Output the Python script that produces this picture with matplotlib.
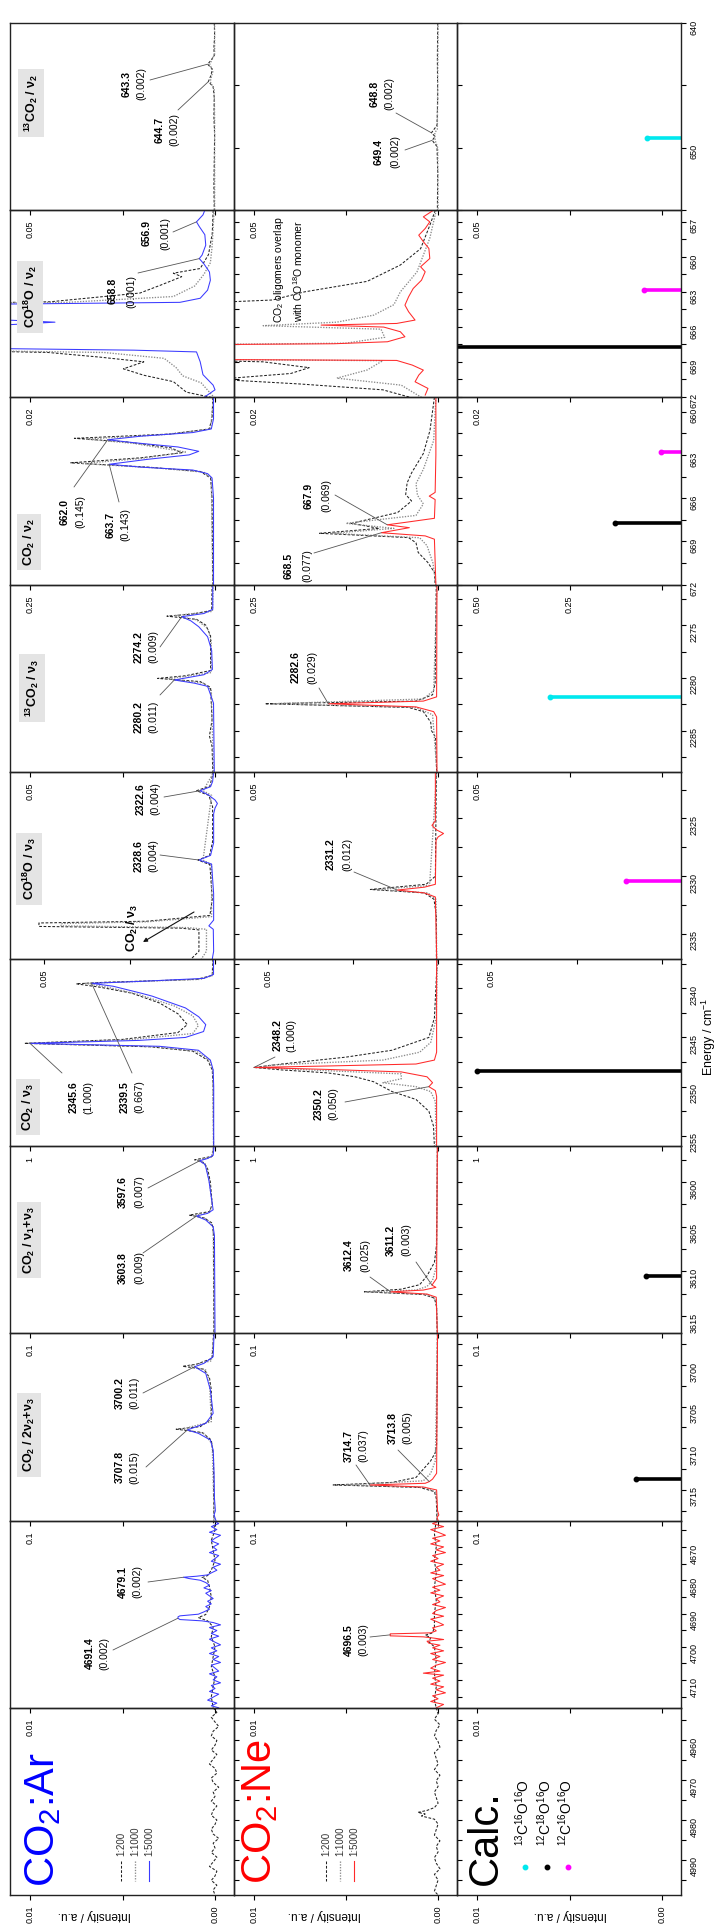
import matplotlib
matplotlib.use("Agg")
import matplotlib.pyplot as plt
from matplotlib.lines import Line2D
from matplotlib.ticker import MultipleLocator

plt.rcParams["font.family"] = ["Liberation Sans", "DejaVu Sans"]
plt.rcParams["mathtext.default"] = "regular"

FIG_W, FIG_H = 717, 1928

# =========================================
# Spectra, (energy / cm-1, intensity) pairs
# =========================================

# row 1: 13CO2 / v2
R1_AR_200 = [(640.0, 0.0002), (641.0, 0.0001), (642.0, 0.0003), (642.6, 0.0002), (643.0, 0.0011),
             (643.3, 0.0020), (643.7, 0.0007), (644.2, 0.0011), (644.7, 0.0018), (645.1, 0.0005),
             (646.0, 0.0002), (647.5, 0.0003), (649.0, 0.0001), (651.0, 0.0002), (653.0, 0.0003),
             (655.0, 0.0002)]
R1_AR_1000 = [(640.0, 0.0001), (642.5, 0.0001), (643.3, 0.0014), (643.9, 0.0006), (644.7, 0.0013),
              (645.3, 0.0002), (648.0, 0.0001), (655.0, 0.0001)]
R1_NE_200 = [(640.0, 0.0001), (643.0, 0.0002), (646.0, 0.0001), (648.2, 0.0003), (648.8, 0.0018),
             (649.1, 0.0008), (649.4, 0.0016), (649.9, 0.0003), (652.0, 0.0001), (655.0, 0.0002)]
R1_NE_1000 = [(640.0, 0.0), (648.5, 0.0002), (648.8, 0.0009), (649.4, 0.0008), (650.0, 0.0001),
              (655.0, 0.0)]

# row 2: CO18O / v2
R2_AR_200 = [(656.0, 0.0002), (658.0, 0.0003), (659.8, 0.0007), (661.0, 0.0016), (661.4, 0.0045),
             (661.7, 0.0036), (662.4, 0.0058), (663.1, 0.0081), (663.85, 0.0178), (664.0, 0.03),
             (666.0, 0.05), (668.0, 0.03), (668.2, 0.018), (668.6, 0.0124), (669.0, 0.0077),
             (669.6, 0.0099), (670.15, 0.0077), (670.7, 0.0045), (671.6, 0.0031), (672.05, 0.0004)]
R2_AR_1000 = [(656.0, 0.0001), (659.0, 0.0003), (660.5, 0.0005), (661.5, 0.0012), (662.5, 0.0022),
              (663.4, 0.0045), (663.9, 0.016), (664.0, 0.03), (666.0, 0.05), (668.0, 0.03),
              (668.2, 0.012), (668.7, 0.0055), (669.5, 0.0042), (670.2, 0.0035), (670.8, 0.0015),
              (672.05, 0.0001)]
R2_AR_5000 = [(656.0, 0.0011), (656.4, 0.0013), (657.0, 0.0020), (657.4, 0.0017), (658.1, 0.0011),
              (659.0, 0.0010), (659.85, 0.0014), (660.15, 0.0017), (660.6, 0.0012), (661.3, 0.0006),
              (662.0, 0.0005), (662.85, 0.0008), (663.55, 0.0016), (663.9, 0.0038), (664.0, 0.016),
              (664.1, 0.030), (665.0, 0.040), (665.4, 0.023), (665.6, 0.0173), (665.85, 0.023),
              (666.4, 0.040), (667.8, 0.030), (668.0, 0.0088), (668.15, 0.0020), (669.0, 0.0016),
              (670.1, 0.0013), (671.0, 0.0002), (671.4, 0.0), (672.0, 0.0011)]
R2_NE_200 = [(656.0, 0.0003), (657.3, 0.0009), (659.3, 0.0019), (660.7, 0.0041), (662.1, 0.0077),
             (663.0, 0.0145), (663.7, 0.018), (664.1, 0.03), (666.0, 0.04), (668.0, 0.04),
             (668.8, 0.03), (669.0, 0.019), (669.5, 0.014), (670.0, 0.016), (670.5, 0.024),
             (670.9, 0.015), (671.4, 0.006), (672.05, 0.003)]
R2_NE_1000 = [(656.0, 0.0002), (658.4, 0.0009), (661.3, 0.0023), (663.0, 0.0041), (664.1, 0.0048),
              (665.0, 0.0070), (665.6, 0.011), (665.9, 0.019), (666.2, 0.0062), (666.9, 0.0058),
              (667.4, 0.010), (667.55, 0.03), (668.2, 0.05), (668.78, 0.03), (668.9, 0.006),
              (669.7, 0.0077), (670.4, 0.011), (671.0, 0.004), (672.05, 0.0018)]
R2_NE_5000 = [(656.0, 0.0005), (656.57, 0.0016), (657.0, 0.0009), (657.57, 0.0014), (658.14, 0.0021),
              (658.7, 0.0016), (659.28, 0.0010), (660.14, 0.0009), (660.85, 0.0019), (661.28, 0.0014),
              (662.0, 0.0018), (662.71, 0.0027), (663.42, 0.0032), (664.14, 0.0036), (664.71, 0.0032),
              (665.42, 0.0025), (665.71, 0.0045), (665.85, 0.0127), (666.02, 0.0059), (666.42, 0.0041),
              (666.85, 0.0036), (667.28, 0.0055), (667.45, 0.0113), (667.55, 0.03), (668.2, 0.05),
              (668.78, 0.03), (668.88, 0.0045), (669.28, 0.0028), (669.71, 0.0016), (670.14, 0.0021),
              (670.71, 0.0025), (671.28, 0.0011), (671.85, 0.0014)]

# row 3: CO2 / v2
R3_AR_200 = [(659.0, 0.003), (660.5, 0.004), (661.2, 0.008), (661.55, 0.06), (661.85, 0.19),
             (662.1, 0.12), (662.5, 0.06), (662.85, 0.045), (663.2, 0.10), (663.55, 0.195),
             (663.85, 0.09), (664.15, 0.02), (664.6, 0.006), (666.0, 0.004), (672.0, 0.003)]
R3_AR_1000 = [(659.0, 0.002), (661.2, 0.006), (661.6, 0.07), (661.9, 0.175), (662.2, 0.11),
              (662.8, 0.04), (663.25, 0.10), (663.6, 0.18), (663.9, 0.08), (664.2, 0.015),
              (664.6, 0.005), (672.0, 0.003)]
R3_AR_5000 = [(659.0, 0.002), (660.5, 0.002), (661.2, 0.005), (661.45, 0.03), (661.7, 0.10),
              (661.95, 0.145), (662.15, 0.11), (662.45, 0.05), (662.75, 0.022), (663.0, 0.035),
              (663.3, 0.09), (663.65, 0.143), (663.85, 0.10), (664.05, 0.03), (664.3, 0.01),
              (664.6, 0.004), (666.0, 0.002), (672.0, 0.002)]
R3_NE_200 = [(659.0, 0.005), (661.3, 0.011), (662.9, 0.020), (664.25, 0.036), (664.94, 0.042),
             (665.75, 0.044), (666.2, 0.036), (667.0, 0.055), (667.75, 0.1175), (668.1, 0.08),
             (668.44, 0.161), (668.74, 0.04), (669.1, 0.03), (669.77, 0.027), (670.46, 0.014),
             (671.15, 0.005), (672.0, 0.004)]
R3_NE_1000 = [(659.0, 0.003), (662.0, 0.006), (664.0, 0.02), (665.0, 0.03), (665.8, 0.028),
              (666.4, 0.02), (667.2, 0.03), (667.75, 0.125), (668.1, 0.06), (668.44, 0.145),
              (668.75, 0.025), (669.3, 0.015), (670.5, 0.007), (672.0, 0.003)]
R3_NE_5000 = [(659.0, 0.003), (663.0, 0.003), (665.6, 0.004), (665.86, 0.012), (666.1, 0.004),
              (667.4, 0.005), (667.65, 0.04), (667.85, 0.069), (668.05, 0.039), (668.4, 0.077),
              (668.62, 0.0175), (668.85, 0.005), (672.0, 0.003)]

# row 4: 13CO2 / v3
R4_AR_200 = [(2271.16, 0.0008), (2273.6, 0.0009), (2273.95, 0.006), (2274.15, 0.013), (2274.45, 0.005),
             (2275.0, 0.0025), (2276.0, 0.0012), (2279.3, 0.0012), (2279.8, 0.008), (2280.05, 0.0155),
             (2280.35, 0.004), (2280.9, 0.0012), (2284.0, 0.0008), (2285.5, 0.0015), (2286.5, 0.0008),
             (2288.9, 0.0006)]
R4_AR_1000 = [(2271.16, 0.0005), (2273.7, 0.0007), (2274.1, 0.011), (2274.5, 0.005), (2275.3, 0.002),
              (2276.5, 0.001), (2279.5, 0.001), (2280.1, 0.013), (2280.5, 0.003), (2281.2, 0.001),
              (2288.9, 0.0004)]
R4_AR_5000 = [(2271.16, 0.0006), (2273.5, 0.0006), (2273.9, 0.003), (2274.2, 0.009), (2274.6, 0.0065),
              (2275.15, 0.0044), (2276.1, 0.0020), (2277.4, 0.0009), (2279.2, 0.0007), (2279.7, 0.003),
              (2280.2, 0.011), (2280.5, 0.0056), (2280.8, 0.002), (2282.4, 0.0004), (2288.9, 0.0002)]
R4_NE_200 = [(2271.16, 0.0005), (2280.5, 0.0008), (2281.6, 0.0015), (2282.2, 0.006), (2282.45, 0.047),
             (2282.8, 0.008), (2283.2, 0.004), (2284.2, 0.002), (2285.0, 0.0018), (2285.6, 0.0007),
             (2288.9, 0.0004)]
R4_NE_1000 = [(2271.16, 0.0003), (2281.2, 0.0012), (2282.0, 0.004), (2282.45, 0.045), (2282.8, 0.006),
              (2283.5, 0.0015), (2288.9, 0.0003)]
R4_NE_5000 = [(2271.16, 0.0003), (2281.8, 0.0004), (2282.2, 0.004), (2282.45, 0.0298), (2282.75, 0.006),
              (2283.2, 0.0012), (2283.7, 0.0004), (2288.9, 0.0003)]

# row 5: CO18O / v3
R5_AR_200 = [(2320.96, 0.0005), (2322.2, 0.0015), (2322.6, 0.0054), (2323.0, 0.0018), (2324.0, 0.0007),
             (2327.0, 0.0007), (2328.2, 0.0016), (2328.6, 0.005), (2329.0, 0.0015), (2332.0, 0.0008),
             (2333.4, 0.0015), (2333.9, 0.02), (2334.05, 0.0515), (2334.35, 0.0515), (2334.5, 0.01),
             (2334.65, 0.0047), (2336.5, 0.0047), (2337.17, 0.007)]
R5_AR_1000 = [(2320.96, 0.0003), (2322.6, 0.0035), (2323.0, 0.001), (2328.6, 0.0035), (2329.0, 0.001),
              (2333.5, 0.001), (2333.95, 0.02), (2334.1, 0.045), (2334.3, 0.045), (2334.45, 0.008),
              (2334.6, 0.0025), (2336.5, 0.0025), (2337.17, 0.004)]
R5_AR_5000 = [(2320.96, 0.0004), (2321.8, 0.0007), (2322.25, 0.0013), (2322.6, 0.0044), (2322.95, 0.002),
              (2323.4, 0.0), (2323.7, -0.0007), (2324.1, 0.0), (2324.6, 0.0004), (2327.1, 0.0004),
              (2328.2, 0.0013), (2328.6, 0.0047), (2328.95, 0.001), (2331.5, 0.0004), (2333.8, 0.0004),
              (2334.3, 0.0018), (2334.6, 0.0005), (2336.5, 0.0004), (2337.17, 0.0008)]
R5_NE_200 = [(2320.96, 0.0005), (2330.0, 0.0008), (2330.7, 0.0035), (2331.15, 0.0199), (2331.45, 0.004),
             (2332.0, 0.0012), (2333.5, 0.0005), (2337.17, 0.0005)]
R5_NE_1000 = [(2320.96, 0.0004), (2330.8, 0.0025), (2331.15, 0.018), (2331.45, 0.003), (2332.0, 0.0006),
              (2337.17, 0.0004)]
R5_NE_5000 = [(2320.96, 0.0008), (2325.2, 0.0008), (2325.6, 0.0018), (2326.0, 0.0004), (2326.3, -0.0016),
              (2326.6, 0.0), (2326.9, 0.0006), (2330.7, 0.0008), (2330.95, 0.004), (2331.2, 0.012),
              (2331.45, 0.004), (2331.8, 0.0008), (2337.17, 0.0004)]

# row 6: CO2 / v3
R6_AR_200 = [(2337.03, 0.012), (2338.7, 0.015), (2339.1, 0.1), (2339.4, 0.6), (2339.55, 0.75),
             (2339.9, 0.62), (2340.5, 0.45), (2341.5, 0.30), (2342.6, 0.20), (2343.7, 0.15),
             (2344.5, 0.20), (2345.2, 0.5), (2345.6, 1.03), (2345.95, 0.35), (2346.4, 0.12),
             (2347.3, 0.04), (2348.3, 0.015), (2350.0, 0.01), (2356.05, 0.008)]
R6_AR_1000 = [(2337.03, 0.01), (2338.7, 0.012), (2339.1, 0.08), (2339.5, 0.70), (2339.9, 0.58),
              (2340.6, 0.42), (2341.8, 0.22), (2342.8, 0.12), (2343.8, 0.09), (2344.6, 0.12),
              (2345.2, 0.45), (2345.6, 1.01), (2345.95, 0.32), (2346.4, 0.1), (2347.3, 0.03),
              (2348.3, 0.012), (2356.05, 0.008)]
R6_AR_5000 = [(2337.03, 0.008), (2338.6, 0.008), (2339.0, 0.06), (2339.3, 0.40), (2339.5, 0.667),
              (2339.8, 0.55), (2340.5, 0.40), (2340.8, 0.34), (2342.0, 0.16), (2342.9, 0.088),
              (2343.7, 0.05), (2344.4, 0.062), (2345.0, 0.16), (2345.3, 0.41), (2345.6, 1.0),
              (2345.9, 0.30), (2346.3, 0.09), (2347.3, 0.025), (2348.3, 0.01), (2350.0, 0.007),
              (2356.05, 0.007)]
R6_NE_200 = [(2337.03, 0.005), (2340.0, 0.012), (2343.0, 0.02), (2345.0, 0.05), (2346.3, 0.25),
             (2347.0, 0.5), (2347.7, 0.85), (2348.05, 1.0), (2348.3, 0.85), (2348.6, 0.6),
             (2349.0, 0.45), (2349.5, 0.35), (2350.5, 0.25), (2351.3, 0.12), (2352.5, 0.05),
             (2354.0, 0.025), (2356.05, 0.02)]
R6_NE_1000 = [(2337.03, 0.004), (2343.0, 0.01), (2345.5, 0.04), (2346.5, 0.1), (2347.3, 0.3),
              (2347.8, 0.9), (2348.05, 0.98), (2348.3, 0.7), (2348.7, 0.2), (2349.2, 0.2),
              (2349.6, 0.3), (2350.0, 0.12), (2350.5, 0.04), (2351.5, 0.015), (2356.05, 0.01)]
R6_NE_5000 = [(2337.03, 0.008), (2346.5, 0.008), (2347.3, 0.02), (2347.7, 0.12), (2347.9, 0.6),
              (2348.05, 1.0), (2348.25, 0.6), (2348.5, 0.2), (2349.0, 0.06), (2349.6, 0.03),
              (2350.0, 0.05), (2350.4, 0.015), (2351.0, 0.008), (2356.05, 0.008)]

# row 7: CO2 / v1+v3
R7_AR_200 = [(3595.97, 0.0008), (3597.1, 0.0015), (3597.5, 0.011), (3597.8, 0.006), (3598.5, 0.004),
             (3600.0, 0.0025), (3602.5, 0.0015), (3603.3, 0.003), (3603.7, 0.014), (3604.0, 0.006),
             (3604.6, 0.0015), (3606.0, 0.0008), (3616.96, 0.0006)]
R7_AR_1000 = [(3595.97, 0.0005), (3597.2, 0.002), (3597.55, 0.0095), (3598.0, 0.005), (3600.0, 0.003),
              (3602.5, 0.0015), (3603.4, 0.003), (3603.75, 0.012), (3604.1, 0.005), (3605.0, 0.001),
              (3616.96, 0.0004)]
R7_AR_5000 = [(3595.97, 0.0005), (3597.0, 0.001), (3597.35, 0.004), (3597.6, 0.0083), (3598.0, 0.0055),
              (3598.3, 0.005), (3599.8, 0.0033), (3602.0, 0.0018), (3603.1, 0.001), (3603.5, 0.004),
              (3603.8, 0.01), (3604.25, 0.005), (3605.0, 0.001), (3606.0, 0.0003), (3616.96, 0.0)]
R7_NE_200 = [(3595.97, 0.0004), (3607.0, 0.0008), (3609.0, 0.002), (3610.5, 0.006), (3611.5, 0.01),
             (3612.0, 0.02), (3612.3, 0.04), (3612.6, 0.008), (3613.0, 0.002), (3614.0, 0.0008),
             (3616.96, 0.0005)]
R7_NE_1000 = [(3595.97, 0.0003), (3609.5, 0.001), (3611.0, 0.003), (3611.7, 0.006), (3612.1, 0.012),
              (3612.3, 0.038), (3612.6, 0.006), (3613.2, 0.001), (3616.96, 0.0003)]
R7_NE_5000 = [(3595.97, 0.0004), (3610.8, 0.0008), (3611.3, 0.0025), (3611.55, 0.0033), (3611.8, 0.0012),
              (3612.1, 0.008), (3612.3, 0.0258), (3612.55, 0.006), (3612.9, 0.001), (3616.96, 0.0004)]

# row 8: CO2 / 2v2+v3
R8_AR_200 = [(3696.2, 0.0008), (3699.2, 0.0015), (3699.9, 0.01), (3700.15, 0.0175), (3700.5, 0.006),
             (3701.5, 0.003), (3703.0, 0.002), (3706.5, 0.002), (3707.4, 0.008), (3707.7, 0.021),
             (3708.1, 0.007), (3709.0, 0.002), (3711.0, 0.0008), (3718.68, 0.0006)]
R8_AR_1000 = [(3696.2, 0.0005), (3699.5, 0.002), (3700.1, 0.014), (3700.6, 0.005), (3702.0, 0.003),
              (3706.8, 0.002), (3707.7, 0.018), (3708.2, 0.006), (3709.5, 0.0015), (3718.68, 0.0004)]
R8_AR_5000 = [(3696.2, 0.0005), (3699.0, 0.001), (3699.8, 0.006), (3700.2, 0.011), (3701.0, 0.005),
              (3703.0, 0.0025), (3705.8, 0.001), (3707.0, 0.005), (3707.8, 0.015), (3708.2, 0.009),
              (3709.0, 0.0025), (3710.2, 0.001), (3713.0, 0.0005), (3716.0, 0.0003), (3717.5, -0.0002),
              (3718.0, 0.0005), (3718.68, -0.0005)]
R8_NE_200 = [(3696.2, 0.0004), (3709.5, 0.0008), (3710.5, 0.0015), (3711.5, 0.004), (3712.5, 0.008),
             (3713.5, 0.012), (3714.1, 0.025), (3714.4, 0.057), (3714.7, 0.01), (3715.2, 0.002),
             (3716.0, 0.001), (3718.68, 0.0006)]
R8_NE_1000 = [(3696.2, 0.0003), (3711.5, 0.0015), (3713.0, 0.004), (3713.9, 0.008), (3714.4, 0.05),
              (3714.7, 0.007), (3715.3, 0.001), (3718.68, 0.0003)]
R8_NE_5000 = [(3696.2, 0.0003), (3713.0, 0.0008), (3713.7, 0.003), (3714.0, 0.0048), (3714.2, 0.007),
              (3714.4, 0.037), (3714.65, 0.008), (3715.0, 0.0008), (3717.5, 0.0003), (3718.0, -0.0004),
              (3718.3, 0.0006), (3718.68, 0.0)]

# row 9: combination band near 4690 (noisy)
R9_AR_200 = [(4662.1, 0.0001), (4665.0, 0.0), (4668.0, 0.0002), (4671.0, 0.0001), (4674.0, 0.0),
             (4677.0, 0.0002), (4678.6, 0.0004), (4679.2, 0.0007), (4680.0, 0.0004), (4682.0, 0.0003),
             (4685.0, 0.0002), (4688.0, 0.0003), (4690.3, 0.0005), (4691.2, 0.0009), (4692.2, 0.0004),
             (4694.0, 0.0001), (4697.0, 0.0002), (4700.0, 0.0), (4703.0, 0.0001), (4706.0, 0.0002),
             (4709.0, 0.0), (4712.0, 0.0001), (4715.0, 0.0002), (4718.3, 0.0001)]
R9_AR_5000 = [(4662.1, 0.0001), (4663.0, -0.0002), (4663.9, 0.0002), (4664.8, -0.0001), (4665.6, 0.0003),
              (4666.5, -0.0003), (4667.4, 0.0), (4668.2, 0.0002), (4669.1, -0.0002), (4670.0, 0.0001),
              (4670.9, -0.0001), (4671.7, 0.0003), (4672.6, -0.0002), (4673.5, 0.0), (4674.3, 0.0002),
              (4675.2, -0.0003), (4676.1, 0.0001), (4677.0, -0.0001), (4677.8, 0.0002), (4678.4, 0.0004),
              (4678.8, 0.0010), (4679.1, 0.0017), (4679.5, 0.0014), (4680.0, 0.0008), (4680.7, 0.0005),
              (4681.5, 0.0003), (4682.3, 0.0006), (4683.1, 0.0002), (4683.9, 0.0005), (4684.7, 0.0003),
              (4685.5, 0.0001), (4686.3, 0.0004), (4687.1, 0.0002), (4687.9, 0.0005), (4688.7, 0.0003),
              (4689.5, 0.0006), (4690.2, 0.0009), (4690.7, 0.0019), (4691.0, 0.0020), (4691.4, 0.0020),
              (4691.8, 0.0019), (4692.2, 0.0007), (4692.7, 0.0001), (4693.4, -0.0003), (4694.2, 0.0003),
              (4695.1, -0.0001), (4696.0, 0.0002), (4696.8, -0.0002), (4697.7, 0.0003), (4698.6, 0.0),
              (4699.4, -0.0003), (4700.3, 0.0002), (4701.2, -0.0001), (4702.0, 0.0003), (4702.9, -0.0002),
              (4703.8, 0.0001), (4704.7, -0.0003), (4705.5, 0.0002), (4706.4, 0.0), (4707.3, -0.0002),
              (4708.1, 0.0003), (4709.0, -0.0001), (4709.9, 0.0001), (4710.8, -0.0003), (4711.6, 0.0002),
              (4712.5, 0.0), (4713.4, 0.0003), (4714.2, -0.0002), (4715.1, 0.0001), (4716.0, 0.0004),
              (4716.9, -0.0001), (4717.7, 0.0002), (4718.3, -0.0002)]
R9_NE_200 = [(4662.1, 0.0001), (4666.0, 0.0002), (4670.0, 0.0001), (4674.0, 0.0002), (4678.0, 0.0001),
             (4682.0, 0.0002), (4686.0, 0.0001), (4690.0, 0.0002), (4694.0, 0.0002), (4695.8, 0.0003),
             (4696.5, 0.0007), (4697.2, 0.0004), (4698.5, 0.0005), (4700.0, 0.0002), (4704.0, 0.0001),
             (4708.0, 0.0002), (4712.0, 0.0001), (4716.0, 0.0002), (4718.3, 0.0001)]
R9_NE_5000 = [(4662.1, -0.0001), (4663.0, 0.0003), (4663.9, -0.0003), (4664.8, 0.0004), (4665.6, 0.0),
              (4666.5, -0.0004), (4667.4, 0.0003), (4668.2, -0.0001), (4669.1, 0.0004), (4670.0, -0.0003),
              (4670.9, 0.0001), (4671.7, -0.0004), (4672.6, 0.0003), (4673.5, 0.0), (4674.3, 0.0004),
              (4675.2, -0.0003), (4676.1, 0.0001), (4677.0, -0.0001), (4677.8, 0.0004), (4678.6, -0.0003),
              (4679.5, 0.0003), (4680.3, 0.0), (4681.2, -0.0004), (4682.1, 0.0003), (4683.0, -0.0001),
              (4683.8, 0.0004), (4684.7, -0.0003), (4685.6, 0.0001), (4686.5, -0.0001), (4687.3, 0.0003),
              (4688.2, -0.0004), (4689.1, 0.0001), (4690.0, 0.0003), (4690.8, -0.0003), (4691.7, 0.0004),
              (4692.6, 0.0), (4693.4, -0.0003), (4694.3, 0.0003), (4695.2, 0.0001), (4695.8, 0.0004),
              (4696.1, 0.0026), (4696.4, 0.0026), (4696.7, 0.0026), (4697.0, 0.0008), (4697.4, 0.0002),
              (4697.8, -0.0003), (4698.3, 0.0006), (4698.9, 0.0005), (4699.5, -0.0001), (4700.3, 0.0003),
              (4701.2, -0.0003), (4702.0, 0.0004), (4702.9, -0.0001), (4703.8, 0.0003), (4704.7, -0.0004),
              (4705.5, 0.0001), (4706.4, 0.0004), (4707.3, -0.0001), (4707.9, 0.0008), (4708.5, -0.0003),
              (4709.4, 0.0003), (4710.3, -0.0001), (4711.2, 0.0004), (4712.0, -0.0003), (4712.9, 0.0001),
              (4713.8, -0.0004), (4714.7, 0.0003), (4715.6, 0.0), (4716.4, 0.0004), (4717.3, -0.0003),
              (4718.3, 0.0001)]

# row 10: 4990-4960 region (noise only)
R10_AR_200 = [(4951.95, 0.0001), (4953.1, -0.0001), (4954.3, 0.0002), (4955.5, 0.0), (4956.6, -0.0002),
              (4957.8, 0.0001), (4959.0, 0.0002), (4960.1, -0.0001), (4961.3, 0.0), (4962.5, 0.0002),
              (4963.6, -0.0001), (4964.8, 0.0001), (4966.0, 0.0003), (4967.1, 0.0), (4968.3, -0.0001),
              (4969.5, 0.0002), (4970.6, 0.0001), (4971.8, -0.0002), (4973.0, 0.0001), (4974.1, 0.0),
              (4975.3, 0.0002), (4976.5, -0.0001), (4977.6, 0.0001), (4978.8, 0.0002), (4980.0, -0.0001),
              (4981.1, 0.0), (4982.3, 0.0002), (4983.5, 0.0001), (4984.6, -0.0002), (4985.8, 0.0001),
              (4987.0, 0.0), (4988.1, 0.0002), (4989.3, -0.0001), (4990.5, 0.0001), (4991.6, 0.0003),
              (4992.8, -0.0001), (4994.0, 0.0), (4995.1, 0.0002), (4996.3, -0.0001), (4997.5, 0.0001),
              (4998.75, 0.0)]
R10_NE_200 = [(4951.95, 0.0001), (4953.4, 0.0), (4954.8, 0.0002), (4956.2, -0.0001), (4957.6, 0.0001),
              (4959.0, 0.0002), (4960.4, 0.0), (4961.8, -0.0001), (4963.2, 0.0002), (4964.6, 0.0001),
              (4966.0, 0.0), (4967.4, 0.0002), (4968.8, -0.0001), (4970.2, 0.0001), (4971.6, 0.0),
              (4973.0, 0.0002), (4974.4, 0.0001), (4975.8, 0.0), (4976.9, 0.0002), (4977.6, 0.0006),
              (4978.1, 0.0011), (4978.5, 0.0007), (4979.0, 0.0009), (4979.8, 0.0002), (4981.0, 0.0),
              (4982.4, 0.0001), (4983.8, 0.0002), (4985.2, -0.0001), (4986.6, 0.0001), (4988.0, 0.0),
              (4989.4, 0.0002), (4990.8, 0.0001), (4992.2, -0.0001), (4993.6, 0.0002), (4995.0, 0.0),
              (4996.4, 0.0001), (4997.8, 0.0002), (4998.75, 0.0)]

# calculated sticks
CALC_ENERGY = [649.2, 2281.8, 667.7, 2348.4, 3610.5, 3713.7, 662.8, 2330.4]
CALC_INTENSITY = [0.004, 0.0303, 0.127, 1.0, 0.0085, 0.0142, 0.00194, 0.0104]
CALC_SPECIES = [0, 0, 1, 1, 1, 1, 2, 2]
CALC_COLORS = ["#00e8ee", "#000000", "#ff00ff"]
CALC_NAMES = ["$^{13}$C$^{16}$O$^{16}$O", "$^{12}$C$^{18}$O$^{16}$O", "$^{12}$C$^{16}$O$^{16}$O"]

AR_TRACES = [
    (R1_AR_200, R1_AR_1000, None),
    (R2_AR_200, R2_AR_1000, R2_AR_5000),
    (R3_AR_200, R3_AR_1000, R3_AR_5000),
    (R4_AR_200, R4_AR_1000, R4_AR_5000),
    (R5_AR_200, R5_AR_1000, R5_AR_5000),
    (R6_AR_200, R6_AR_1000, R6_AR_5000),
    (R7_AR_200, R7_AR_1000, R7_AR_5000),
    (R8_AR_200, R8_AR_1000, R8_AR_5000),
    (R9_AR_200, None, R9_AR_5000),
    (R10_AR_200, None, None),
]
NE_TRACES = [
    (R1_NE_200, R1_NE_1000, None),
    (R2_NE_200, R2_NE_1000, R2_NE_5000),
    (R3_NE_200, R3_NE_1000, R3_NE_5000),
    (R4_NE_200, R4_NE_1000, R4_NE_5000),
    (R5_NE_200, R5_NE_1000, R5_NE_5000),
    (R6_NE_200, R6_NE_1000, R6_NE_5000),
    (R7_NE_200, R7_NE_1000, R7_NE_5000),
    (R8_NE_200, R8_NE_1000, R8_NE_5000),
    (R9_NE_200, None, R9_NE_5000),
    (R10_NE_200, None, None),
]

# axis ranges per row (top to bottom), intensity scale labels
ROW_LIMITS = [(640.0, 655.0), (656.0, 672.05), (659.01, 672.0), (2271.16, 2288.9),
              (2320.96, 2337.17), (2337.03, 2356.05), (3595.97, 3616.96), (3696.2, 3718.68),
              (4662.1, 4718.3), (4951.95, 4998.75)]
ROW_MAJOR = [10, 3, 3, 5, 5, 5, 5, 5, 10, 10]
ROW_SCALE = [0.05, 0.02, 0.25, 0.05, 0.05, 1.0, 0.1, 0.1, 0.01, 0.01]
ROW_SCALE_LABEL = ["0.05", "0.02", "0.25", "0.05", "0.05", "1", "0.1", "0.1", "0.01", "0.01"]
ROW_S_FRAC = [0.0893, 0.0893, 0.0893, 0.0893, 0.152, 0.0893, 0.0893, 0.0893, 0.0893, 0.0893]
ZERO_FRAC = 0.9152

GROUP_LABELS = ["$^{13}$CO$_2$ / ν$_2$", "CO$^{18}$O / ν$_2$", "CO$_2$ / ν$_2$",
                "$^{13}$CO$_2$ / ν$_3$", "CO$^{18}$O / ν$_3$", "CO$_2$ / ν$_3$",
                "CO$_2$ / ν$_1$+ν$_3$", "CO$_2$ / 2ν$_2$+ν$_3$"]
GROUP_POS = [(31, 103), (30, 297), (29, 542), (32, 688), (29, 869), (28, 1107), (29, 1240), (29, 1435)]

# (row, col, position, intensity label, peak energy, peak intensity, text xy, paren x, leader start)
PEAK_LABELS = [
    (0, 0, "643.3", "(0.002)", 643.3, 0.0020, (127, 84), 141, (150, 80)),
    (0, 0, "644.7", "(0.002)", 644.7, 0.0018, (160, 130), 174, (178, 110)),
    (0, 1, "648.8", "(0.002)", 648.8, 0.0018, (375, 94), 389, (396, 113)),
    (0, 1, "649.4", "(0.002)", 649.4, 0.0016, (379, 152), 395, (405, 150)),
    (1, 0, "658.8", "(0.001)", 660.15, 0.0017, (113, 291), 131, (138, 273)),
    (1, 0, "656.9", "(0.001)", 657.0, 0.0020, (147, 233), 165, (173, 232)),
    (2, 0, "662.0", "(0.145)", 661.95, 0.145, (65, 512), 80, (74, 487)),
    (2, 0, "663.7", "(0.143)", 663.65, 0.143, (111, 525), 125, (119, 502)),
    (2, 1, "667.9", "(0.069)", 667.85, 0.069, (309, 496), 326, (335, 495)),
    (2, 1, "668.5", "(0.077)", 668.4, 0.077, (289, 566), 307, (314, 553)),
    (3, 0, "2274.2", "(0.009)", 2274.2, 0.009, (139, 647), 153, (160, 647)),
    (3, 0, "2280.2", "(0.011)", 2280.2, 0.011, (139, 717), 153, (160, 695)),
    (3, 1, "2282.6", "(0.029)", 2282.45, 0.0298, (296, 667), 312, (319, 688)),
    (4, 0, "2322.6", "(0.004)", 2322.6, 0.0044, (141, 799), 155, (164, 797)),
    (4, 0, "2328.6", "(0.004)", 2328.6, 0.0047, (139, 856), 153, (160, 855)),
    (4, 1, "2331.2", "(0.012)", 2331.2, 0.012, (331, 854), 347, (354, 872)),
    (5, 0, "2345.6", "(1.000)", 2345.6, 1.0, (74, 1097), 88, (62, 1073)),
    (5, 0, "2339.5", "(0.667)", 2339.5, 0.667, (125, 1097), 139, (132, 1073)),
    (5, 1, "2348.2", "(1.000)", 2348.05, 1.0, (278, 1035), 291, (275, 1057)),
    (5, 1, "2350.2", "(0.050)", 2350.0, 0.05, (319, 1104), 333, (345, 1102)),
    (6, 0, "3597.6", "(0.007)", 3597.6, 0.0083, (123, 1192), 139, (148, 1188)),
    (6, 0, "3603.8", "(0.009)", 3603.8, 0.01, (123, 1268), 139, (143, 1253)),
    (6, 1, "3612.4", "(0.025)", 3612.3, 0.0258, (349, 1255), 365, (370, 1277)),
    (6, 1, "3611.2", "(0.003)", 3611.55, 0.0033, (391, 1240), 406, (416, 1262)),
    (7, 0, "3700.2", "(0.011)", 3700.2, 0.011, (120, 1393), 134, (143, 1393)),
    (7, 0, "3707.8", "(0.015)", 3707.8, 0.015, (120, 1467), 134, (146, 1467)),
    (7, 1, "3714.7", "(0.037)", 3714.4, 0.037, (349, 1446), 363, (356, 1465)),
    (7, 1, "3713.8", "(0.005)", 3714.0, 0.0048, (393, 1428), 407, (398, 1450)),
    (8, 0, "4679.1", "(0.002)", 4679.1, 0.0017, (123, 1582), 137, (148, 1582)),
    (8, 0, "4691.4", "(0.002)", 4691.4, 0.0020, (90, 1653), 104, (113, 1650)),
    (8, 1, "4696.5", "(0.003)", 4696.4, 0.0026, (349, 1640), 363, (370, 1637)),
]

LEGEND_RATIOS = ["1:200", "1:1000", "1:5000"]

COL_X = [10, 234, 457]
COL_W = [224, 223, 224]
ROW_TOP = 23
ROW_H = 187.2


def fig_xy(x, y):
    """Pixel position in the 717x1928 layout -> figure fraction."""
    return x / FIG_W, 1 - y / FIG_H


def plot_pairs(ax, pairs, **style):
    ax.plot([p[1] for p in pairs], [p[0] for p in pairs], **style)


def setup_axes(ax, row, col):
    lo, hi = ROW_LIMITS[row]
    ax.set_ylim(hi, lo)
    ax.yaxis.set_major_locator(MultipleLocator(ROW_MAJOR[row]))
    ax.yaxis.set_minor_locator(MultipleLocator(ROW_MAJOR[row] / 2))
    ax.yaxis.tick_right()
    ax.tick_params(axis="y", which="both", direction="out", length=3.5, width=0.8,
                   left=False, labelleft=False, right=True, labelright=(col == 2),
                   labelsize=6.5, labelrotation=90, pad=2.5)

    scale = ROW_SCALE[row]
    labels = ["", "", ROW_SCALE_LABEL[row]]
    if col == 2 and row == 2:
        scale = 0.5
        labels = ["", "0.25", "0.50"]
    if row == 9:
        labels = ["0.00", "", "0.01"]
    s_frac = ROW_S_FRAC[row]
    span = scale / (ZERO_FRAC - s_frac)
    left = scale + s_frac * span
    ax.set_xlim(left, left - span)
    ax.set_xticks([0, scale / 2, scale], labels)
    ax.tick_params(axis="x", which="both", direction="out", length=3.5, width=0.8,
                   top=False, labelsize=6.5, labelrotation=90, pad=4)
    for spine in ax.spines.values():
        spine.set_linewidth(1.0)
        spine.set_color("#222222")


def main() -> None:
    fig = plt.figure(figsize=(FIG_W / 100, FIG_H / 100), dpi=100)

    style_200 = dict(color="#222222", lw=0.75, ls=(0, (2.6, 1.6)))
    style_1000 = dict(color="#8a8a8a", lw=0.95, ls=(0, (1, 1.1)))
    solid_colors = ["#3a3aff", "#ff2a2a"]

    axes = {}
    for row in range(10):
        for col in range(3):
            bottom = FIG_H - (ROW_TOP + (row + 1) * ROW_H)
            ax = fig.add_axes([COL_X[col] / FIG_W, bottom / FIG_H, COL_W[col] / FIG_W, ROW_H / FIG_H])
            ax.set_facecolor("none")
            setup_axes(ax, row, col)
            axes[(row, col)] = ax

            if col < 2:
                traces = (AR_TRACES if col == 0 else NE_TRACES)[row]
                if traces[0] is not None:
                    plot_pairs(ax, traces[0], **style_200)
                if traces[1] is not None:
                    plot_pairs(ax, traces[1], **style_1000)
                if traces[2] is not None:
                    plot_pairs(ax, traces[2], color=solid_colors[col], lw=0.75)
            else:
                lo, hi = ROW_LIMITS[row]
                base = ax.get_xlim()[1]
                for e, i, s in zip(CALC_ENERGY, CALC_INTENSITY, CALC_SPECIES):
                    if lo <= e <= hi:
                        ax.plot([base, i], [e, e], color=CALC_COLORS[s], lw=2.6,
                                solid_capstyle="butt")
                        ax.plot([i], [e], "o", color=CALC_COLORS[s], ms=3.2)

    # group labels in grey boxes
    for text, (x, y) in zip(GROUP_LABELS, GROUP_POS):
        fig.text(*fig_xy(x, y), text, rotation=90, ha="center", va="center",
                 fontsize=9, fontweight="bold",
                 bbox=dict(boxstyle="square,pad=0.35", fc="#e4e4e4", ec="none"))

    # peak labels with leader lines
    for row, col, pos, inten, pe, pi, (tx, ty), px2, (lx, ly) in PEAK_LABELS:
        ax = axes[(row, col)]
        ax.annotate("", xy=(pi, pe), xycoords="data", xytext=fig_xy(lx, ly),
                    textcoords="figure fraction",
                    arrowprops=dict(arrowstyle="-", color="#555555", lw=0.6,
                                    shrinkA=0, shrinkB=0))
        fig.text(*fig_xy(tx, ty), pos, rotation=90, ha="center", va="center",
                 fontsize=7.5, fontweight="bold")
        fig.text(*fig_xy(px2, ty), inten, rotation=90, ha="center", va="center",
                 fontsize=7.5)

    # CO2 / v3 arrow in the CO18O panel
    axes[(4, 0)].annotate("", xy=fig_xy(143, 942), xycoords="figure fraction",
                          xytext=fig_xy(194, 912), textcoords="figure fraction",
                          arrowprops=dict(arrowstyle="-|>", color="#111111", lw=0.8,
                                          mutation_scale=6, shrinkA=0, shrinkB=0))
    fig.text(*fig_xy(132, 928), "CO$_2$ / ν$_3$", rotation=90, ha="center", va="center",
             fontsize=9, fontweight="bold")

    # oligomer note
    fig.text(*fig_xy(279, 270), "CO$_2$ oligomers overlap", rotation=90,
             ha="center", va="center", fontsize=7.5)
    fig.text(*fig_xy(298, 271), "with CO$^{18}$O monomer", rotation=90,
             ha="center", va="center", fontsize=7.5)

    # matrix titles
    fig.text(*fig_xy(23, 1887), "CO$_2$:Ar", rotation=90, ha="left", va="bottom",
             fontsize=30, color="#0000ff")
    fig.text(*fig_xy(240, 1884), "CO$_2$:Ne", rotation=90, ha="left", va="bottom",
             fontsize=30, color="#ff0000")
    fig.text(*fig_xy(466, 1885), "Calc.", rotation=90, ha="left", va="bottom",
             fontsize=30, color="#000000")

    # dilution legends
    for col, x0 in [(0, 121), (1, 326)]:
        styles = [style_200, style_1000, dict(color=solid_colors[col], lw=0.8)]
        for k, (lab, st) in enumerate(zip(LEGEND_RATIOS, styles)):
            x = x0 + 14 * k
            fig.add_artist(Line2D([x / FIG_W, x / FIG_W],
                                  [1 - 1861 / FIG_H, 1 - 1881 / FIG_H], **st))
            fig.text(*fig_xy(x, 1856), lab, rotation=90, ha="center", va="bottom",
                     fontsize=7, color="#333333")

    # calculation legend
    for k, (name, color) in enumerate(zip(CALC_NAMES, CALC_COLORS)):
        x = 525 + 21.5 * k
        fig.add_artist(Line2D([x / FIG_W], [1 - 1867 / FIG_H], marker="o", ms=3.2,
                              color=color, ls="none"))
        fig.text(*fig_xy(x - 2, 1846), name, rotation=90, ha="center", va="bottom",
                 fontsize=10)

    # axis titles
    for x in [94, 324, 570]:
        fig.text(*fig_xy(x, 1915), "Intensity / a.u.", rotation=180, ha="center",
                 va="center", fontsize=8.5)
    fig.text(*fig_xy(709, 1037), "Energy / cm$^{-1}$", rotation=90, ha="center",
             va="center", fontsize=9)

    fig.savefig("out.png", dpi=100)


if __name__ == "__main__":
    main()
